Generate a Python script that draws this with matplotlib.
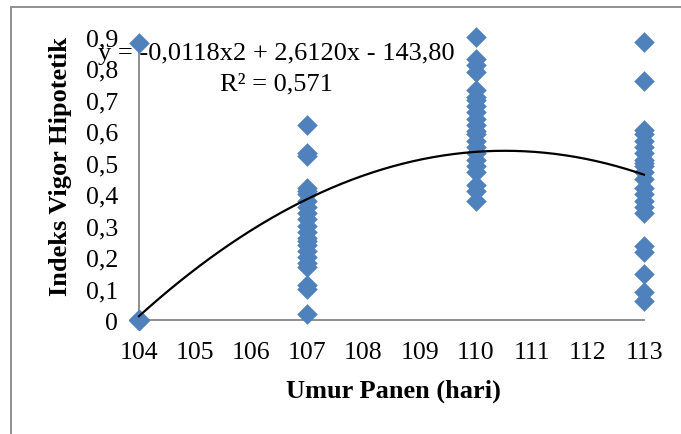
import numpy as np
import matplotlib
matplotlib.use('Agg')
import matplotlib.pyplot as plt
from matplotlib.patches import Rectangle

plt.rcParams['font.family'] = ['Liberation Serif', 'DejaVu Serif']

# harvest age (days) and measured vigor index per group
umur = [104, 107, 110, 113]
vigor_104 = [0.88] + [0.0] * 21
vigor_107 = [0.62, 0.53, 0.52, 0.42, 0.41, 0.40, 0.38, 0.36, 0.34, 0.32, 0.30,
             0.28, 0.26, 0.25, 0.24, 0.22, 0.20, 0.18, 0.17, 0.11, 0.10, 0.02]
vigor_110 = [0.90, 0.83, 0.81, 0.79, 0.73, 0.71, 0.70, 0.68, 0.66, 0.64, 0.62,
             0.60, 0.59, 0.57, 0.55, 0.53, 0.51, 0.49, 0.47, 0.43, 0.41, 0.38]
vigor_113 = [0.885, 0.76, 0.605, 0.59, 0.57, 0.55, 0.53, 0.51, 0.50, 0.49, 0.47,
             0.45, 0.42, 0.40, 0.38, 0.36, 0.34, 0.235, 0.215, 0.145, 0.088, 0.061]

x_ticks = list(range(104, 114))
y_ticks = [0, 0.1, 0.2, 0.3, 0.4, 0.5, 0.6, 0.7, 0.8, 0.9]
persamaan = 'y = -0,0118x2 + 2,6120x - 143,80\nR² = 0,571'

groups = [vigor_104, vigor_107, vigor_110, vigor_113]
xs = np.concatenate([[u] * len(g) for u, g in zip(umur, groups)])
ys = np.concatenate(groups)

fig = plt.figure(figsize=(6.81, 4.35), dpi=100)
ax = fig.add_axes([139 / 681, 1 - 321 / 435, (644 - 139) / 681, (321 - 38) / 435])

ax.scatter(xs, ys, marker='D', s=110, color='#4F81BD', linewidths=0, zorder=3,
           clip_on=False)

# polynomial trendline (order 2)
coef = np.polyfit(xs, ys, 2)
xf = np.linspace(104, 113, 200)
ax.plot(xf, np.polyval(coef, xf), color='black', lw=1.6, zorder=4, clip_on=False)

ax.set_xlim(104, 113)
ax.set_ylim(0, 0.9)
ax.set_xticks(x_ticks)
ax.set_xticklabels([str(t) for t in x_ticks])
ax.set_yticks(y_ticks)
ax.set_yticklabels([('%g' % t).replace('.', ',') for t in y_ticks])
ax.tick_params(length=0, labelsize=18.5, pad=15)
for side in ['top', 'right']:
    ax.spines[side].set_visible(False)
for side in ['left', 'bottom']:
    ax.spines[side].set_color('#868686')
    ax.spines[side].set_linewidth(1.3)

fig.text(393 / 681, 1 - 391 / 435, 'Umur Panen (hari)', fontsize=19,
         fontweight='bold', ha='center', va='center')
fig.text(61 / 681, 1 - 166 / 435, 'Indeks Vigor Hipotetik', fontsize=19,
         fontweight='bold', ha='center', va='center', rotation=90)
fig.text(276 / 681, 1 - 69 / 435, persamaan, fontsize=19, ha='center',
         va='center', multialignment='center', linespacing=1.5, zorder=5)

# outer chart border
fig.patches.append(Rectangle((11 / 681, -0.1), 1.2, 1.1 - 8 / 435,
                             transform=fig.transFigure, fill=False,
                             edgecolor='#888888', lw=1.3))

fig.savefig('out.png', dpi=100)
